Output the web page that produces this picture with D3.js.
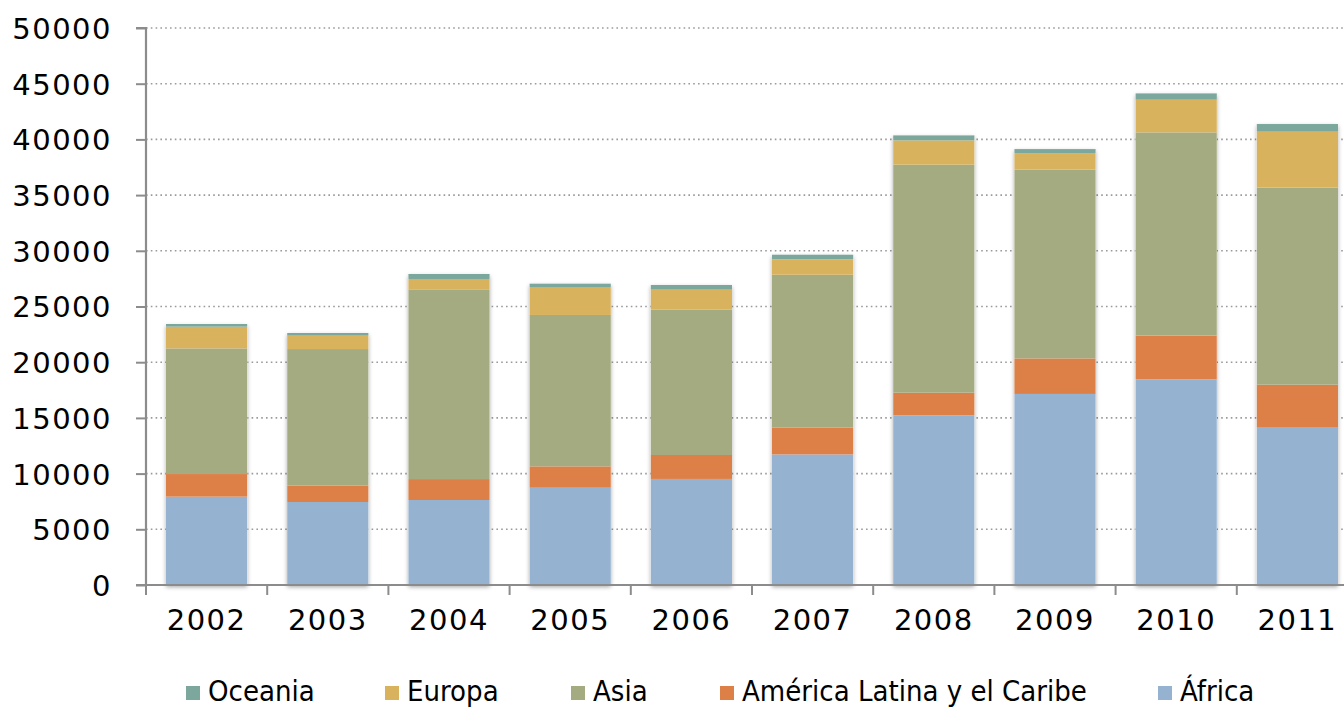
<!DOCTYPE html>
<html><head><meta charset="utf-8">
<script src="https://cdn.jsdelivr.net/npm/d3@7"></script>
<style>body{margin:0;background:#fff;overflow:hidden}svg{display:block}</style>
</head><body>
<svg id="c" width="1344" height="708"></svg>
<script>
const years = ["2002","2003","2004","2005","2006","2007","2008","2009","2010","2011"];
const africa  = [7930, 7450, 7630, 8730, 9520, 11720, 15220, 17150, 18460, 14120];
const latam   = [2030, 1460, 1880, 1920, 2150, 2400, 2040, 3190, 3920, 3860];
const asia    = [11280, 12270, 17030, 13590, 13040, 13730, 20470, 16940, 18250, 17690];
const europa  = [1950, 1200, 930, 2510, 1800, 1380, 2180, 1490, 2930, 5020];
const oceania = [240, 240, 450, 300, 420, 420, 450, 360, 570, 690];
const yTicks = [0,5000,10000,15000,20000,25000,30000,35000,40000,45000,50000];
const seriesNames = ["África","América Latina y el Caribe","Asia","Europa","Oceania"];
const seriesVals = [africa, latam, asia, europa, oceania];
const colors = ["#95B3D1","#DD8047","#A5AB81","#D8B25C","#7BA79D"];

(function(){
const svg = d3.select("#c");
const mLeft = 146, mTop = 28, mBottom = 585, bandW = 121.2;
const x = d3.scaleBand().domain(years).range([mLeft, mLeft + bandW*years.length]).paddingInner(0.33).paddingOuter(0.165);
const y = d3.scaleLinear().domain([0,50000]).range([mBottom, mTop]);

const defs = svg.append("defs");
const f = defs.append("filter").attr("id","sh").attr("x","-20%").attr("y","-5%").attr("width","140%").attr("height","115%");
f.append("feDropShadow").attr("dx",0).attr("dy",2).attr("stdDeviation",2.2).attr("flood-color","#000").attr("flood-opacity",0.35);

// grid
svg.append("g").selectAll("line").data(yTicks.filter(d=>d>0)).join("line")
  .attr("x1", mLeft).attr("x2", 1344).attr("y1", d=>y(d)).attr("y2", d=>y(d))
  .attr("stroke","#9a9a9a").attr("stroke-width",1.6).attr("stroke-dasharray","1.6,3.2");

// stack
const table = years.map((yr,i)=>{const o={year:yr}; seriesNames.forEach((s,k)=>o[s]=seriesVals[k][i]); return o;});
const stack = d3.stack().keys(seriesNames)(table);

const barsG = svg.append("g");
years.forEach((yr,i)=>{
  const total = stack[stack.length-1][i][1];
  barsG.append("rect").attr("x", x(yr)).attr("width", x.bandwidth())
    .attr("y", y(total)).attr("height", y(0)-y(total))
    .attr("fill","#fff").attr("filter","url(#sh)");
});
stack.forEach((layer,k)=>{
  barsG.append("g").selectAll("rect").data(layer).join("rect")
    .attr("x", d=>x(d.data.year)).attr("width", x.bandwidth())
    .attr("y", d=>y(d[1])).attr("height", d=>y(d[0])-y(d[1]))
    .attr("fill", colors[k]);
});

// y axis
const yAxis = d3.axisLeft(y).tickValues(yTicks).tickSize(10).tickPadding(24).tickFormat(d3.format("d"));
const ya = svg.append("g").attr("transform",`translate(${mLeft},0)`).call(yAxis);
ya.select(".domain").attr("stroke","#8c8c8c").attr("stroke-width",2.2).attr("d",`M-10,${mTop}H0V${mBottom}`);
ya.selectAll(".tick line").attr("stroke","#8c8c8c").attr("stroke-width",2);
ya.selectAll("text").attr("font-family","'DejaVu Sans', sans-serif").attr("font-size",29)
  .attr("letter-spacing","1.5px").attr("fill","#000").attr("dy","0.36em");

// x axis
const xa = svg.append("g").attr("transform",`translate(0,${mBottom})`);
xa.append("line").attr("x1",mLeft-10).attr("x2",1344).attr("y1",0).attr("y2",0).attr("stroke","#8c8c8c").attr("stroke-width",2.2);
const bounds = d3.range(years.length+1).map(i=>mLeft+i*bandW);
xa.selectAll(".tk").data(bounds).join("line").attr("class","tk")
  .attr("x1",d=>d).attr("x2",d=>d).attr("y1",0).attr("y2",10).attr("stroke","#8c8c8c").attr("stroke-width",2);
xa.selectAll(".lb").data(years).join("text").attr("class","lb")
  .attr("x", d=>x(d)+x.bandwidth()/2).attr("y", 45).attr("text-anchor","middle")
  .attr("font-family","'DejaVu Sans', sans-serif").attr("font-size",29).attr("letter-spacing","1.5px")
  .text(d=>d);

// legend
const legOrder = [4,3,2,1,0];
const legX = [186, 385, 571, 720, 1158];
const lg = svg.append("g");
legOrder.forEach((k,j)=>{
  lg.append("rect").attr("x",legX[j]).attr("y",686).attr("width",14).attr("height",14).attr("fill",colors[k]);
  lg.append("text").attr("x",legX[j]+22).attr("y",701)
    .attr("font-family","'DejaVu Sans Condensed','DejaVu Sans',sans-serif").attr("font-stretch","condensed")
    .attr("font-size",29).attr("fill","#000").text(seriesNames[k]);
});
})();
</script>
</body></html>
